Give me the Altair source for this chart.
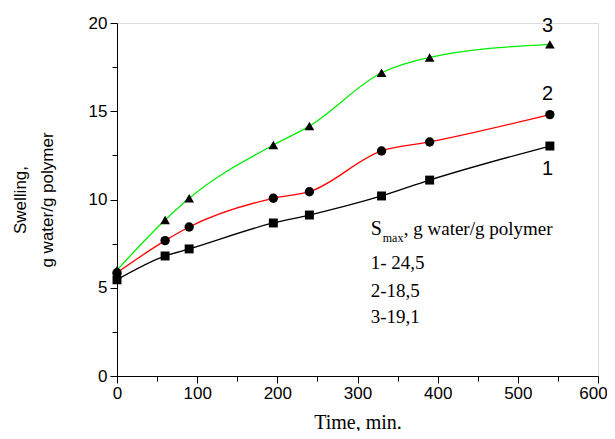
import altair as alt
import pandas as pd

# ---- data ----
time_min = [0, 60, 90, 195, 240, 330, 390, 540]
swelling_1 = [5.45, 6.8, 7.2, 8.67, 9.12, 10.2, 11.1, 13.03]
swelling_2 = [5.85, 7.67, 8.44, 10.07, 10.44, 12.75, 13.26, 14.81]
swelling_3 = [6.0, 8.84, 10.07, 13.09, 14.16, 17.18, 18.05, 18.79]
series_names = ["1", "2", "3"]

# curve labels near the curve ends
curve_label_text = ["1", "2", "3"]
curve_label_x = [537, 537, 537]
curve_label_y = [11.75, 15.95, 19.85]

# S_max annotation
note_lines = ["1- 24,5", "2-18,5", "3-19,1"]
note_x = [316.5, 316.5, 316.5]
note_y = [6.06, 4.49, 2.99]
head_x = [316.5]
head_y = [7.99]

rows = []
for name, vals in zip(series_names, [swelling_1, swelling_2, swelling_3]):
    for t, v in zip(time_min, vals):
        rows.append({"time": t, "swelling": v, "series": name})
df = pd.DataFrame(rows)

lab_df = pd.DataFrame({"text": curve_label_text, "x": curve_label_x, "y": curve_label_y})
note_df = pd.DataFrame({"text": note_lines, "x": note_x, "y": note_y})
head_df = pd.DataFrame({"x": head_x, "y": head_y})

sans = "Liberation Sans"
serif = "Liberation Serif"

xscale = alt.Scale(domain=[0, 600], nice=False, zero=False)
yscale = alt.Scale(domain=[0, 20], nice=False, zero=False)

xaxis = alt.Axis(
    values=list(range(0, 601, 50)),
    labelExpr="datum.value % 100 === 0 ? datum.label : ''",
    tickSize={"condition": {"test": "datum.value % 100 === 0", "value": 7}, "value": 5},
    labelOffset={"condition": {"test": "datum.value === 600", "value": -5}, "value": 0},
    grid=False, domainColor="black", tickColor="black", labelColor="black",
    labelFont=sans, labelFontSize=17, labelPadding=2,
    title="Time, min.", titleFont=serif, titleFontSize=20, titleFontWeight="normal",
    titleColor="black", titlePadding=11, labelFlush=False, labelOverlap=False,
)
yaxis = alt.Axis(
    values=[i * 2.5 for i in range(9)],
    labelExpr="datum.value % 5 === 0 ? datum.label : ''",
    tickSize={"condition": {"test": "datum.value % 5 === 0", "value": 7}, "value": 5},
    grid=False, domainColor="black", tickColor="black", labelColor="black",
    labelFont=sans, labelFontSize=17, labelPadding=3,
    title=["Swelling,", "g water/g polymer"], titleFont=sans, titleFontSize=17,
    titleFontWeight="normal", titleColor="black", titlePadding=32, titleLineHeight=27,
    labelFlush=False, labelOverlap=False,
)

color = alt.Color("series:N", scale=alt.Scale(domain=series_names, range=["black", "#ff0000", "#00ee00"]), legend=None)
shape = alt.Shape("series:N", scale=alt.Scale(domain=series_names, range=["square", "circle", "triangle-up"]), legend=None)
size = alt.Size("series:N", scale=alt.Scale(domain=series_names, range=[80, 95, 260]), legend=None)

base = alt.Chart(df)
lines = base.mark_line(interpolate="monotone", strokeWidth=1.3).encode(
    x=alt.X("time:Q", scale=xscale, axis=xaxis),
    y=alt.Y("swelling:Q", scale=yscale, axis=yaxis),
    color=color,
)
pts = base.mark_point(filled=True, opacity=1, color="black").encode(
    x="time:Q", y="swelling:Q", shape=shape, size=size,
)

labs = alt.Chart(lab_df).mark_text(font=sans, fontSize=20, color="black", align="center", baseline="middle").encode(
    x="x:Q", y="y:Q", text="text:N"
)
notes = alt.Chart(note_df).mark_text(font=serif, fontSize=19, color="black", align="left", baseline="alphabetic").encode(
    x="x:Q", y="y:Q", text="text:N"
)
head_s = alt.Chart(head_df).mark_text(font=serif, fontSize=20, color="black", align="left", baseline="alphabetic", text="S").encode(
    x="x:Q", y="y:Q"
)
head_sub = alt.Chart(head_df).mark_text(font=serif, fontSize=12, color="black", align="left", baseline="alphabetic", text="max", dx=12, dy=7).encode(
    x="x:Q", y="y:Q"
)
head_rest = alt.Chart(head_df).mark_text(font=serif, fontSize=19, color="black", align="left", baseline="alphabetic", text=", g water/g polymer", dx=33).encode(
    x="x:Q", y="y:Q"
)

chart = alt.layer(lines, pts, labs, notes, head_s, head_sub, head_rest).properties(
    width=481, height=353,
    autosize=alt.AutoSizeParams(type="none"),
    padding={"left": 109, "top": 15, "right": 9, "bottom": 55},
).configure_view(stroke=None).configure(background="white")

chart.save("out.html", embed_options={"renderer": "svg", "actions": False})
